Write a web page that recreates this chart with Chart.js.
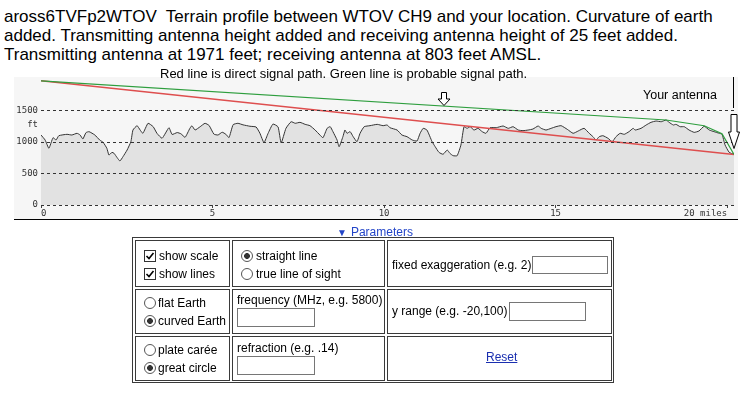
<!DOCTYPE html>
<html>
<head>
<meta charset="utf-8">
<script src="https://cdn.jsdelivr.net/npm/chart.js@4.4.1/dist/chart.umd.min.js"></script>
<style>
  body { margin: 0; width: 746px; height: 394px; background: #fff; position: relative; overflow: hidden;
         font-family: Arial, "Liberation Sans", sans-serif; color: #000; }
  .abs { position: absolute; white-space: nowrap; }
  #title { left: 4px; top: 7px; font-size: 17px; line-height: 19px; }
  #note { left: 160px; top: 66px; font-size: 13px; line-height: 15px; }
  #box { left: 14px; top: 77px; width: 724px; height: 142px; background: #f6f6f6; border-bottom: 1px solid #000; }
  #antenna { left: 643px; top: 88px; font-size: 12.5px; line-height: 14px; }
  #ft { left: 0; width: 38px; text-align: right; top: 119px; font: 9px "DejaVu Sans Mono", monospace; color: #333; }
  #params { left: 337px; top: 225px; font-size: 12px; line-height: 14px; color: #2345c8; }
  #params span { font-size: 10px; vertical-align: 0px; margin-right: 4px; }
  .cell { position: absolute; box-sizing: border-box; border: 1px solid #3a3a3a; }
  .lbl { position: absolute; white-space: nowrap; font-size: 12px; line-height: 14px; }
  .ck, .rd { position: absolute; margin: 0; -webkit-appearance: none; appearance: none; width: 12px; height: 12px;
             box-sizing: border-box; border: 1px solid #333; background: #fff; }
  .rd { border-radius: 50%; border-color: #555; }
  .ck:checked { background: #fff url("data:image/svg+xml;utf8,<svg xmlns='http://www.w3.org/2000/svg' width='10' height='10'><path d='M1.5 5 L4 7.5 L8.5 2' fill='none' stroke='black' stroke-width='1.6'/></svg>") no-repeat center; }
  .rd:checked { background: radial-gradient(circle, #333 0, #333 2.6px, #fff 3.2px); }
  .txt { position: absolute; box-sizing: border-box; border: 1px solid #767676; background: #fff; margin: 0; padding: 0; }
  #reset { color: #1a2fb0; text-decoration: underline; }
</style>
</head>
<body>
<div id="title" class="abs">aross6TVFp2WTOV&nbsp; Terrain profile between WTOV CH9 and your location. Curvature of earth<br>added. Transmitting antenna height added and receiving antenna height of 25 feet added.<br>Transmitting antenna at 1971 feet; receiving antenna at 803 feet AMSL.</div>

<div id="box" class="abs"><canvas id="profile" width="724" height="142"></canvas></div>
<div id="note" class="abs">Red line is direct signal path. Green line is probable signal path.</div>
<div id="antenna" class="abs">Your antenna</div>
<div id="ft" class="abs">ft</div>

<svg class="abs" style="left:0;top:0;pointer-events:none" width="746" height="394">
  <line x1="733.5" y1="77" x2="733.5" y2="108" stroke="#000" stroke-width="1"/>
  <polygon points="441.5,92.5 446.5,92.5 446.5,99 450,99 444,105.5 438,99 441.5,99" fill="#fff" stroke="#000" stroke-width="1"/>
  <polygon points="731,114.5 737,114.5 737,132 739.5,132 734,148.5 728.5,132 731,132" fill="#fff" stroke="#000" stroke-width="1"/>
</svg>

<div id="params" class="abs"><span>&#9660;</span>Parameters</div>

<div class="cell" style="left:132px;top:237px;width:482px;height:146px;"></div>
<div class="cell" style="left:135px;top:240px;width:95px;height:47px;"></div>
<div class="cell" style="left:232px;top:240px;width:153px;height:47px;"></div>
<div class="cell" style="left:387px;top:240px;width:225px;height:47px;"></div>
<div class="cell" style="left:135px;top:289px;width:95px;height:45px;"></div>
<div class="cell" style="left:232px;top:289px;width:153px;height:45px;"></div>
<div class="cell" style="left:387px;top:289px;width:225px;height:45px;"></div>
<div class="cell" style="left:135px;top:336px;width:95px;height:45px;"></div>
<div class="cell" style="left:232px;top:336px;width:153px;height:45px;"></div>
<div class="cell" style="left:387px;top:336px;width:225px;height:45px;"></div>

<input type="checkbox" class="ck" style="left:144px;top:250px" checked>
<div class="lbl" style="left:159px;top:249px">show scale</div>
<input type="checkbox" class="ck" style="left:144px;top:268px" checked>
<div class="lbl" style="left:159px;top:267px">show lines</div>

<input type="radio" name="los" class="rd" style="left:241px;top:250px" checked>
<div class="lbl" style="left:256px;top:249px">straight line</div>
<input type="radio" name="los" class="rd" style="left:241px;top:268px">
<div class="lbl" style="left:256px;top:267px">true line of sight</div>

<div class="lbl" style="left:392px;top:258px">fixed exaggeration (e.g. 2)</div>
<input type="text" class="txt" style="left:532px;top:256px;width:76px;height:18px">

<input type="radio" name="earth" class="rd" style="left:144px;top:297px">
<div class="lbl" style="left:158px;top:296px">flat Earth</div>
<input type="radio" name="earth" class="rd" style="left:144px;top:315px" checked>
<div class="lbl" style="left:158px;top:314px">curved Earth</div>

<div class="lbl" style="left:237px;top:293px">frequency (MHz, e.g. 5800)</div>
<input type="text" class="txt" style="left:237px;top:308px;width:78px;height:19px">

<div class="lbl" style="left:392px;top:304px">y range (e.g. -20,100)</div>
<input type="text" class="txt" style="left:509px;top:302px;width:77px;height:19px">

<input type="radio" name="proj" class="rd" style="left:144px;top:344px">
<div class="lbl" style="left:158px;top:343px">plate carée</div>
<input type="radio" name="proj" class="rd" style="left:144px;top:362px" checked>
<div class="lbl" style="left:158px;top:361px">great circle</div>

<div class="lbl" style="left:237px;top:341px">refraction (e.g. .14)</div>
<input type="text" class="txt" style="left:237px;top:356px;width:78px;height:19px">

<div class="lbl" style="left:486px;top:350px"><a id="reset" href="#">Reset</a></div>

<script>
// terrain samples: distance (miles) and elevation (feet)
const miles = [0.00, 0.12, 0.23, 0.35, 0.44, 0.52, 0.76, 0.90, 1.05, 1.14, 1.22, 1.31, 1.40, 1.57, 1.71, 1.81, 1.92, 1.98,
  2.07, 2.13, 2.22, 2.30, 2.39, 2.51, 2.62, 2.68, 2.80, 2.89, 2.97, 3.12, 3.27, 3.38, 3.53, 3.73, 3.82, 3.97, 4.08, 4.20,
  4.34, 4.40, 4.49, 4.64, 4.78, 4.90, 5.04, 5.16, 5.28, 5.39, 5.48, 5.60, 5.74, 5.89, 6.09, 6.27, 6.38, 6.50, 6.62, 6.76,
  6.91, 7.00, 7.14, 7.29, 7.41, 7.55, 7.70, 7.84, 7.99, 8.13, 8.22, 8.34, 8.43, 8.51, 8.63, 8.69, 8.80, 8.86, 8.92, 9.01,
  9.10, 9.21, 9.30, 9.42, 9.59, 9.80, 9.97, 10.09, 10.17, 10.38, 10.52, 10.67, 10.82, 10.96, 11.05, 11.14, 11.25, 11.40,
  11.49, 11.60, 11.72, 11.84, 11.92, 12.01, 12.13, 12.24, 12.33, 12.42, 12.51, 12.62, 12.74, 12.86, 12.97, 13.09, 13.27,
  13.47, 13.62, 13.76, 13.91, 14.05, 14.20, 14.34, 14.49, 14.58, 14.72, 14.87, 15.01, 15.16, 15.34, 15.51, 15.66, 15.83,
  15.98, 16.09, 16.18, 16.27, 16.38, 16.53, 16.65, 16.76, 16.88, 17.00, 17.14, 17.26, 17.32, 17.49, 17.64, 17.78, 17.93,
  18.08, 18.22, 18.31, 18.43, 18.51, 18.63, 18.75, 18.89, 19.04, 19.18, 19.33, 19.48, 19.62, 19.77, 19.85, 19.94, 20.06, 20.20]
const elevation = [1111, 1032, 900, 1068, 1032, 1100, 1122, 1111, 1138, 1111, 1048, 1148, 1164, 1111, 1032, 995, 900, 794,
  836, 820, 751, 698, 767, 873, 1005, 1190, 1259, 1190, 1138, 1297, 1243, 1138, 1060, 1227, 1120, 1150, 1130, 1075,
  1217, 1258, 1190, 1243, 1297, 1262, 1125, 1111, 1155, 1122, 1070, 1275, 1297, 1272, 1250, 1238, 1140, 990, 1138, 1285,
  1240, 985, 1217, 1322, 1297, 1312, 1280, 1259, 1190, 1111, 1068, 1217, 1243, 1164, 1032, 925, 1084, 1190, 1138, 1164,
  1084, 1005, 1138, 1243, 1259, 1280, 1259, 1270, 1227, 1190, 1111, 1084, 1032, 1016, 1138, 1217, 1190, 1005,
  925, 836, 805, 873, 820, 783, 783, 952, 1243, 1217, 1243, 1190, 1217, 1164, 1138, 1227, 1227,
  1254, 1217, 1243, 1190, 1180, 1190, 1206, 1254, 1217, 1190, 1217, 1243, 1259, 1201, 1138, 1175, 1217,
  1138, 1084, 1032, 1084, 1100, 1058, 1005, 1084, 1138, 1122, 1164, 1217, 1190, 1217, 1270, 1312, 1333,
  1322, 1349, 1312, 1270, 1280, 1243, 1243, 1190, 1153, 1175, 1250, 1190, 1164, 1138, 1125, 952, 836, 803]

// red: direct path, transmitter 1971 ft to receiver 803 ft
const directMiles = [0, 20.2]
const directFeet = [1971, 803]
// green: probable path over the terrain
const pathMiles = [0, 18.22, 19.33, 19.85, 20.2]
const pathFeet = [1971, 1349, 1258, 1130, 803]

const feetTicks = [0, 500, 1000, 1500]
const mileTicks = [0, 5, 10, 15, 20]

const toPoints = (xs, ys) => xs.map((x, i) => ({ x: x, y: ys[i] }))
const axisFont = { family: 'DejaVu Sans Mono', size: 9 }

new Chart(document.getElementById('profile').getContext('2d'), {
  type: 'line',
  data: {
    datasets: [
      {
        label: 'Green',
        data: toPoints(pathMiles, pathFeet),
        borderColor: '#2e9e3e',
        borderWidth: 1.2,
        pointRadius: 0,
        fill: false
      },
      {
        label: 'Red',
        data: toPoints(directMiles, directFeet),
        borderColor: 'rgb(222, 78, 78)',
        borderWidth: 1.5,
        pointRadius: 0,
        fill: false
      },
      {
        label: 'Terrain',
        data: toPoints(miles, elevation),
        borderColor: '#333',
        backgroundColor: '#e2e2e2',
        borderWidth: 1,
        pointRadius: 0,
        tension: 0.15,
        fill: 'origin'
      }
    ]
  },
  options: {
    responsive: false,
    animation: false,
    layout: { padding: { top: 2, right: 4, left: 0, bottom: 0 } },
    plugins: {
      legend: { display: false },
      tooltip: { enabled: false }
    },
    scales: {
      x: {
        type: 'linear',
        min: 0,
        max: 20.2,
        afterBuildTicks: (scale) => { scale.ticks = mileTicks.map(v => ({ value: v })) },
        afterFit: (scale) => {
          scale.height = 14
          scale.paddingLeft = 0
          scale.paddingRight = 0
        },
        grid: { drawOnChartArea: false, drawTicks: true, tickLength: 3, color: '#444' },
        border: { display: false },
        ticks: {
          align: 'inner',
          padding: 0,
          maxRotation: 0,
          autoSkip: false,
          color: '#333',
          font: axisFont,
          callback: (v) => v === 20 ? '20 miles' : String(v)
        }
      },
      y: {
        min: 0,
        max: 2000,
        afterBuildTicks: (scale) => { scale.ticks = feetTicks.map(v => ({ value: v })) },
        afterFit: (scale) => {
          scale.width = 27
          scale.paddingTop = 0
          scale.paddingBottom = 0
        },
        grid: { color: '#333', drawTicks: false, z: 1 },
        border: { display: false, dash: [3, 3] },
        ticks: { padding: 3, color: '#333', font: axisFont, callback: (v) => String(v) }
      }
    }
  }
})
</script>
</body>
</html>
